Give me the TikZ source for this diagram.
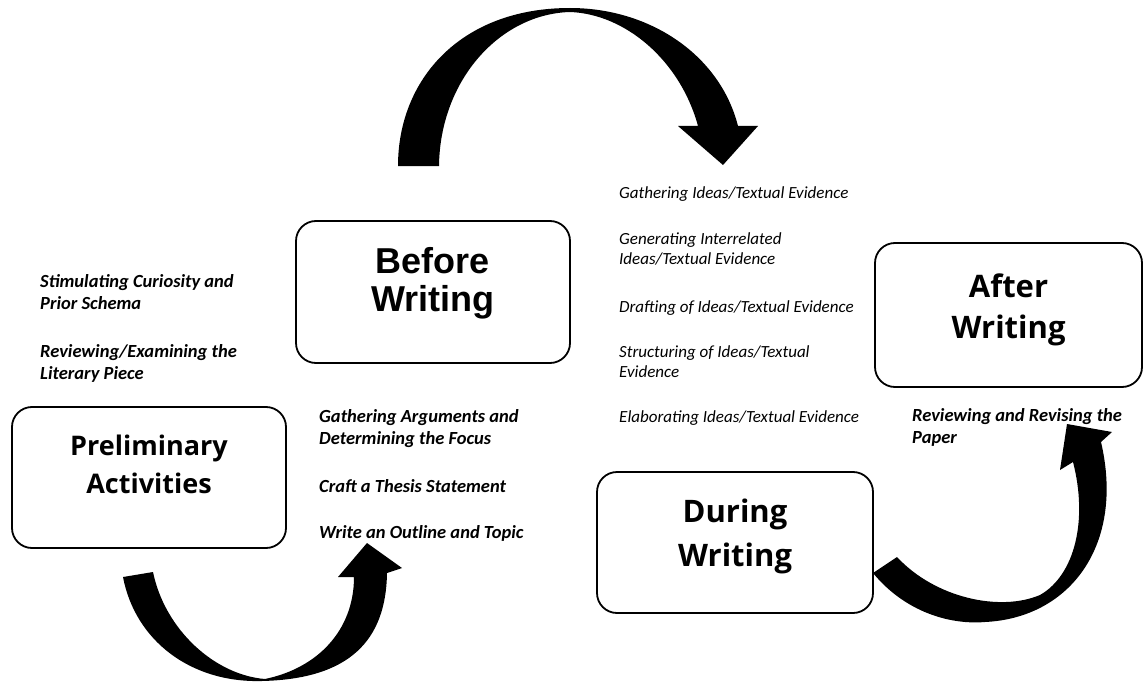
\documentclass[tikz,border=0pt]{standalone}
\usepackage{fontspec}
\setmainfont{Carlito}
\newfontfamily\headfont{Liberation Sans}
\newfontfamily\stagefont{Open Sans}

\begin{document}
\begin{tikzpicture}[
		x=1pt,
		y=-1pt,
		line join=round,
		stage/.style={draw,line width=1.8pt,rounded corners=20pt,inner sep=0pt},
		stagetext/.style={font=\stagefont\bfseries\fontsize{31}{44}\selectfont,align=center},
		headtext/.style={font=\headfont\bfseries\fontsize{36}{38}\selectfont,align=center},
		note/.style={font=\bfseries\itshape\fontsize{18.5}{22}\selectfont,align=left,anchor=base west,inner sep=0pt},
		step note/.style={font=\itshape\fontsize{17}{19.5}\selectfont,align=left,anchor=base west,inner sep=0pt},
		bandarrow/.style={fill=black}
	]
	
	% Canvas
	\useasboundingbox (0,0) rectangle (1143,682);
	
	% Stage boxes
	\node[stage,minimum width=274,minimum height=141] (prelim) at (149,477.5) {};
	\node[stage,minimum width=274,minimum height=142] (before) at (433,292) {};
	\node[stage,minimum width=276,minimum height=141] (during) at (735,542.5) {};
	\node[stage,minimum width=267,minimum height=144] (after) at (1008.5,315) {};
	
	% Stage labels
	\node[stagetext,font=\stagefont\bfseries\fontsize{27}{38}\selectfont] (prelimtext) at ([yshift=13]prelim.center) {Preliminary\\Activities};
	\node[headtext] (beforetext) at ([yshift=9]before.center) {Before\\Writing};
	\node[stagetext] (duringtext) at ([yshift=6]during.center) {During\\Writing};
	\node[stagetext,font=\stagefont\bfseries\fontsize{31}{41}\selectfont] (aftertext) at ([yshift=5]after.center) {After\\Writing};
	
	% Preliminary activities
	\node[note] (curiosity) at (40,309) {Stimulating Curiosity and\\Prior Schema};
	\node[note] (reviewing) at (40,379) {Reviewing/Examining the\\Literary Piece};
	
	% Before writing
	\node[note] (arguments) at (319,444) {Gathering Arguments and\\Determining the Focus};
	\node[note] (thesis) at (319,492) {Craft a Thesis Statement};
	\node[note] (outline) at (319,538) {Write an Outline and Topic};
	
	% During writing
	\node[step note] (gathering) at (619,198) {Gathering Ideas/Textual Evidence};
	\node[step note] (generating) at (619,264) {Generating Interrelated\\Ideas/Textual Evidence};
	\node[step note] (drafting) at (619,312) {Drafting of Ideas/Textual Evidence};
	\node[step note] (structuring) at (619,377) {Structuring of Ideas/Textual\\Evidence};
	\node[step note] (elaborating) at (619,422) {Elaborating Ideas/Textual Evidence};
	
	% After writing
	\node[note] (revising) at (912,443) {Reviewing and Revising the\\Paper};
	
	% Curved arrow: preliminary -> before
	\fill[bandarrow] (123,577) .. controls (135,640) and (190,683) .. (262,681)
	.. controls (350,679) and (386,640) .. (387,573)
	-- (402,568) -- (367,543) -- (338,577) -- (354,577)
	.. controls (354,630) and (318,668) .. (265,679)
	.. controls (215,675) and (165,630) .. (153,572) -- cycle;
	
	% Curved arrow: before -> during
	\fill[bandarrow] (398,166) .. controls (398,80) and (460,8) .. (570,8)
	.. controls (650,8) and (720,55) .. (738,126)
	-- (758,126) -- (723,165) -- (678,126) -- (698,126)
	.. controls (680,60) and (625,14) .. (570,12)
	.. controls (500,14) and (440,80) .. (439,166) -- cycle;
	
	% Curved arrow: during -> after
	\fill[bandarrow] (873,573) .. controls (905,612) and (950,625) .. (985,622)
	.. controls (1070,618) and (1125,545) .. (1101,442)
	-- (1112,432) -- (1067,424) -- (1060,470) -- (1073,462)
	.. controls (1088,520) and (1075,575) .. (1040,595)
	.. controls (1000,612) and (935,598) .. (897,557) -- cycle;
	
\end{tikzpicture}
\end{document}
